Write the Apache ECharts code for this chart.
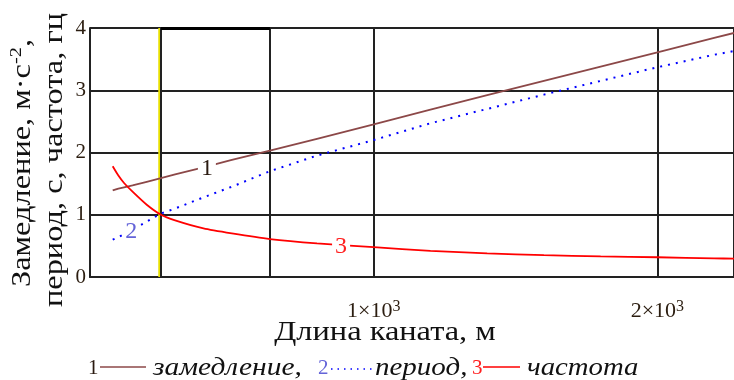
<!DOCTYPE html>
<html>
<head>
<meta charset="utf-8">
<script src="https://cdn.jsdelivr.net/npm/echarts@6/dist/echarts.min.js"></script>
<style>
html,body{margin:0;padding:0;background:#fff;}
#c{width:734px;height:380px;}
</style>
</head>
<body>
<div id="c"></div>
<script>
// Rope length, m
var lengths = [80, 100, 120, 150, 200, 250, 300, 400, 500, 634, 800, 1000, 1200, 1400, 1600, 1800, 2000, 2200, 2270];
// 1: deceleration, m/s^2
var decel = [1.39, 1.42, 1.44, 1.47, 1.53, 1.59, 1.65, 1.76, 1.88, 2.03, 2.22, 2.45, 2.69, 2.92, 3.15, 3.38, 3.61, 3.84, 3.92];
// 2: period, s
var period = [0.60, 0.64, 0.69, 0.76, 0.89, 1.02, 1.10, 1.28, 1.45, 1.70, 1.95, 2.20, 2.47, 2.70, 2.93, 3.15, 3.37, 3.57, 3.63];
// 3: frequency, Hz
var freq = [1.78, 1.63, 1.51, 1.37, 1.16, 1.00, 0.91, 0.78, 0.70, 0.61, 0.54, 0.48, 0.42, 0.38, 0.35, 0.33, 0.317, 0.30, 0.295];
var seriesNames = ['замедление', 'период', 'частота'];
var seriesNums = ['1', '2', '3'];
var xTicks = [1000, 2000];
var yTicks = [0, 1, 2, 3, 4];
var markerX = [250, 634];
var labelPos = [[412, 1.74], [145, 0.73], [885, 0.49]];
var xTitle = 'Длина каната, м';
var yTitle2 = 'период, с, частота, гц';

function pairs(ys) { return lengths.map(function (x, i) { return [x, ys[i]]; }); }

var serif = 'Liberation Serif';
var gridColor = '#222';
var SX = 1.2; // horizontal stretch of the reference's text

var chart = echarts.init(document.getElementById('c'));

function numLabel(i, color) {
  return {
    silent: true, z: 20,
    symbol: 'rect', symbolSize: 0,
    data: [{ coord: labelPos[i] }],
    label: {
      show: true, position: 'inside', formatter: seriesNums[i],
      fontFamily: serif, fontSize: 24, color: color,
      backgroundColor: '#fff', padding: [0, 3]
    }
  };
}

chart.setOption({
  animation: false,
  grid: { left: 90, right: 0, top: 28, bottom: 103, containLabel: false },
  xAxis: {
    type: 'value', min: 0, max: 2270, interval: 1000,
    axisLine: { show: true, lineStyle: { color: gridColor, width: 2 } },
    axisTick: { show: false },
    splitLine: { show: true, lineStyle: { color: gridColor, width: 2 } },
    axisLabel: {
      showMinLabel: false, showMaxLabel: false, margin: 22,
      formatter: function (v) {
        if (xTicks.indexOf(v) < 0) return '';
        return '{a|' + (v / 1000) + '×10}{s|3}';
      },
      rich: {
        a: { fontFamily: serif, fontSize: 22, color: '#2b1d10', lineHeight: 24 },
        s: { fontFamily: serif, fontSize: 16, color: '#2b1d10', verticalAlign: 'top', lineHeight: 24, padding: [0, 0, 10, 0] }
      }
    }
  },
  yAxis: {
    type: 'value', min: 0, max: 4, interval: 1,
    axisLine: { show: true, lineStyle: { color: gridColor, width: 2 } },
    axisTick: { show: false },
    splitLine: { show: true, lineStyle: { color: gridColor, width: 2 } },
    axisLabel: { fontFamily: serif, fontSize: 21, color: '#2b1d10', margin: 4,
      formatter: function (v) { return yTicks.indexOf(v) >= 0 ? String(v) : ''; } }
  },
  series: [
    {
      name: seriesNames[0], type: 'line', data: pairs(decel), symbol: 'none', z: 5,
      lineStyle: { color: '#8c4848', width: 1.8 },
      markPoint: numLabel(0, '#2a1a10'),
      markLine: {
        silent: true, symbol: 'none', label: { show: false },
        data: [
          { xAxis: markerX[0] - 6, lineStyle: { color: '#e8e000', width: 2.5, type: 'solid' } },
          { xAxis: markerX[0], lineStyle: { color: gridColor, width: 2, type: 'solid' } },
          { xAxis: markerX[1], lineStyle: { color: gridColor, width: 2, type: 'solid' } },
          [{ coord: [markerX[0], 4], lineStyle: { color: '#000', width: 3, type: 'solid' } }, { coord: [markerX[1], 4] }]
        ]
      }
    },
    {
      name: seriesNames[1], type: 'line', data: pairs(period), symbol: 'none', z: 6,
      lineStyle: { color: '#0000ff', width: 2, type: [2, 6] },
      markPoint: numLabel(1, '#6464d8')
    },
    {
      name: seriesNames[2], type: 'line', data: pairs(freq), symbol: 'none', z: 7, smooth: 0.2,
      lineStyle: { color: '#ff0000', width: 1.8 },
      markPoint: numLabel(2, '#ff2020')
    }
  ],
  graphic: [
    {
      type: 'text', x: 385, y: 333, scaleX: SX,
      style: { text: xTitle, align: 'center', verticalAlign: 'middle', font: '27px "Liberation Serif"', fill: '#111' }
    },
    {
      type: 'text', x: 23, y: 163, rotation: Math.PI / 2, scaleX: SX,
      style: {
        text: '{a|Замедление, м·с}{s|-2}{a|,}',
        align: 'center', verticalAlign: 'middle',
        rich: {
          a: { fontFamily: serif, fontSize: 27, fill: '#111', lineHeight: 30 },
          s: { fontFamily: serif, fontSize: 17, fill: '#111', verticalAlign: 'top', lineHeight: 30, padding: [0, 0, 12, 0] }
        }
      }
    },
    {
      type: 'text', x: 55, y: 160, rotation: Math.PI / 2, scaleX: SX,
      style: {
        text: yTitle2,
        align: 'center', verticalAlign: 'middle',
        font: '27px "Liberation Serif"', fill: '#111'
      }
    },
    // legend
    { type: 'text', x: 88, y: 368, style: { text: seriesNums[0], font: '21px "Liberation Serif"', fill: '#2a1a10', verticalAlign: 'middle' } },
    { type: 'line', shape: { x1: 100, y1: 367, x2: 146, y2: 367 }, style: { stroke: '#8c4848', lineWidth: 1.5 } },
    { type: 'text', x: 153, y: 368, scaleX: 1.18, style: { text: seriesNames[0] + ',', font: 'italic 25px "Liberation Serif"', fill: '#111', verticalAlign: 'middle' } },
    { type: 'text', x: 318, y: 368, style: { text: seriesNums[1], font: '21px "Liberation Serif"', fill: '#6464d8', verticalAlign: 'middle' } },
    { type: 'line', shape: { x1: 331, y1: 369, x2: 373, y2: 369 }, style: { stroke: '#0000ff', lineWidth: 1.5, lineDash: [1.5, 5] } },
    { type: 'text', x: 375, y: 368, scaleX: 1.16, style: { text: seriesNames[1] + ',', font: 'italic 25px "Liberation Serif"', fill: '#111', verticalAlign: 'middle' } },
    { type: 'text', x: 472, y: 368, style: { text: seriesNums[2], font: '21px "Liberation Serif"', fill: '#ff2020', verticalAlign: 'middle' } },
    { type: 'line', shape: { x1: 483, y1: 367, x2: 520, y2: 367 }, style: { stroke: '#ff0000', lineWidth: 1.5 } },
    { type: 'text', x: 527, y: 368, scaleX: 1.15, style: { text: seriesNames[2], font: 'italic 25px "Liberation Serif"', fill: '#111', verticalAlign: 'middle' } }
  ]
});
</script>
</body>
</html>
